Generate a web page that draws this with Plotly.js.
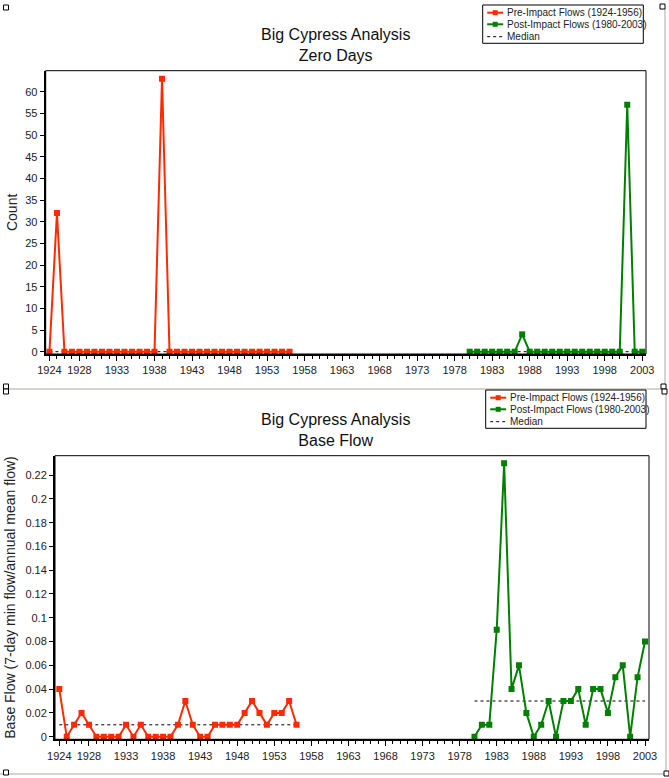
<!DOCTYPE html>
<html><head><meta charset="utf-8">
<script src="https://cdn.plot.ly/plotly-3.0.1.min.js"></script>
<style>html,body{margin:0;padding:0;background:#fff;}#chart{width:669px;height:778px;}</style>
</head><body><div id="chart"></div>
<script>
// ---- data ----
const yearsPre = [1924,1925,1926,1927,1928,1929,1930,1931,1932,1933,1934,1935,1936,1937,1938,1939,1940,1941,1942,1943,1944,1945,1946,1947,1948,1949,1950,1951,1952,1953,1954,1955,1956];
const yearsPost = [1980,1981,1982,1983,1984,1985,1986,1987,1988,1989,1990,1991,1992,1993,1994,1995,1996,1997,1998,1999,2000,2001,2002,2003];
const zeroDaysPre = [0,32,0,0,0,0,0,0,0,0,0,0,0,0,0,63,0,0,0,0,0,0,0,0,0,0,0,0,0,0,0,0,0];
const zeroDaysPost = [0,0,0,0,0,0,0,4,0,0,0,0,0,0,0,0,0,0,0,0,0,57,0,0];
const baseFlowPre = [0.04,0,0.01,0.02,0.01,0,0,0,0,0.01,0,0.01,0,0,0,0,0.01,0.03,0.01,0,0,0.01,0.01,0.01,0.01,0.02,0.03,0.02,0.01,0.02,0.02,0.03,0.01];
const baseFlowPost = [0,0.01,0.01,0.09,0.23,0.04,0.06,0.02,0,0.01,0.03,0,0.03,0.03,0.04,0.01,0.04,0.04,0.02,0.05,0.06,0,0.05,0.08];
const zeroDaysMedian = [0, 0];      // pre, post
const baseFlowMedian = [0.01, 0.03]; // pre, post
const yearTickVals = [1924,1928,1933,1938,1943,1948,1953,1958,1963,1968,1973,1978,1983,1988,1993,1998,2003];
const zeroTickVals = [0,5,10,15,20,25,30,35,40,45,50,55,60];
const baseTickVals = [0,0.02,0.04,0.06,0.08,0.1,0.12,0.14,0.16,0.18,0.2,0.22];
const baseTickText = ['0','0.02','0.04','0.06','0.08','0.1','0.12','0.14','0.16','0.18','0.2','0.22'];
const seriesNames = ['Pre-Impact Flows (1924-1956)','Post-Impact Flows (1980-2003)','Median'];
const chartTitles = ['Big Cypress Analysis<br>Zero Days','Big Cypress Analysis<br>Base Flow'];
const yTitles = ['Count','Base Flow (7-day min flow/annual mean flow)'];

// ---- styles ----
const RED = '#ff2a00', GREEN = '#008000';
const W = 669, H = 778;
const px = v => v / W, py = v => 1 - v / H;
const FONT = 'Liberation Sans, Arial, sans-serif';

function series(x, y, color, xa, ya) {
  return {x, y, xaxis: xa, yaxis: ya, type: 'scatter', mode: 'lines+markers',
    line: {color, width: 2}, marker: {symbol: 'square', size: 6, color},
    showlegend: false, hoverinfo: 'skip'};
}
function median(years, m, xa, ya) {
  return {x: [years[0], years[years.length - 1]], y: [m, m], xaxis: xa, yaxis: ya,
    type: 'scatter', mode: 'lines', line: {color: '#000', width: 1, dash: '3px,3px'},
    showlegend: false, hoverinfo: 'skip'};
}

const data = [
  median(yearsPre, zeroDaysMedian[0], 'x', 'y'),
  median(yearsPost, zeroDaysMedian[1], 'x', 'y'),
  series(yearsPre, zeroDaysPre, RED, 'x', 'y'),
  series(yearsPost, zeroDaysPost, GREEN, 'x', 'y'),
  median(yearsPre, baseFlowMedian[0], 'x2', 'y2'),
  median(yearsPost, baseFlowMedian[1], 'x2', 'y2'),
  series(yearsPre, baseFlowPre, RED, 'x2', 'y2'),
  series(yearsPost, baseFlowPost, GREEN, 'x2', 'y2')
];

function xAxis(domain, range) {
  return {domain, range, tickmode: 'array', tickvals: yearTickVals, ticktext: yearTickVals.map(String),
    ticks: 'outside', ticklen: 5, tickwidth: 1, tickcolor: '#000',
    minor: {dtick: 1, tick0: 1924, ticks: 'outside', ticklen: 3, tickcolor: '#000', showgrid: false},
    showline: true, linecolor: '#000', linewidth: 2, showgrid: false, zeroline: false,
    tickfont: {family: FONT, size: 11, color: '#222'}, fixedrange: true};
}
function yAxis(domain, range, tv, tt, title, standoff, anchor) {
  return {domain, range, anchor, tickmode: 'array', tickvals: tv, ticktext: tt,
    ticks: 'outside', ticklen: 4, tickwidth: 1, tickcolor: '#000',
    showline: true, linecolor: '#000', linewidth: 2, showgrid: false, zeroline: false,
    tickfont: {family: FONT, size: 11, color: '#222'},
    title: {text: title, font: {family: FONT, size: 14, color: '#222'}, standoff},
    automargin: false, fixedrange: true};
}

const shapes = [];
const annotations = [];

// plot frames (thin box)
shapes.push({type: 'rect', xref: 'x domain', yref: 'y domain', x0: 0, x1: 1, y0: 0, y1: 1, line: {color: '#000', width: 1}});
shapes.push({type: 'rect', xref: 'x2 domain', yref: 'y2 domain', x0: 0, x1: 1, y0: 0, y1: 1, line: {color: '#000', width: 1}});

// window frame lines
const FR = '#aca899';
shapes.push({type: 'line', xref: 'paper', yref: 'paper', x0: px(6), x1: px(666), y0: py(389), y1: py(389), line: {color: FR, width: 1}});
shapes.push({type: 'line', xref: 'paper', yref: 'paper', x0: px(665), x1: px(665), y0: py(9), y1: py(389), line: {color: FR, width: 1}});
shapes.push({type: 'line', xref: 'paper', yref: 'paper', x0: px(666), x1: px(666), y0: py(389), y1: py(774), line: {color: FR, width: 1}});
shapes.push({type: 'line', xref: 'paper', yref: 'paper', x0: px(0), x1: px(666), y0: py(774), y1: py(774), line: {color: FR, width: 1}});
// selection handles
[[3.5,5],[660,4],[3.5,384],[3.5,389],[661,384],[662,389],[3.5,770],[664,771]].forEach(([x, y]) => {
  shapes.push({type: 'rect', xref: 'paper', yref: 'paper', x0: px(x), x1: px(x + 5), y0: py(y), y1: py(y + 5),
    line: {color: '#000', width: 1}, fillcolor: '#fff'});
});

// titles
[[45, chartTitles[0]], [429.7, chartTitles[1]]].forEach(([y, t]) => {
  annotations.push({xref: 'paper', yref: 'paper', x: px(335), y: py(y), xanchor: 'center', yanchor: 'middle',
    text: t, showarrow: false, font: {family: FONT, size: 16, color: '#111'}});
});

// legends (one per chart)
function legend(x0, x1, y0, y1, rows) {
  shapes.push({type: 'rect', xref: 'paper', yref: 'paper', x0: px(x0), x1: px(x1), y0: py(y0), y1: py(y1),
    line: {color: '#000', width: 1}, fillcolor: 'rgba(0,0,0,0)'});
  const colors = [RED, GREEN, '#000'];
  rows.forEach((ry, i) => {
    const lx0 = x0 + 4.5, lx1 = x0 + 20.5;
    if (i < 2) {
      shapes.push({type: 'line', xref: 'paper', yref: 'paper', x0: px(lx0), x1: px(lx1), y0: py(ry), y1: py(ry), line: {color: colors[i], width: 2}});
      const c = (lx0 + lx1) / 2;
      shapes.push({type: 'rect', xref: 'paper', yref: 'paper', x0: px(c - 2.5), x1: px(c + 2.5), y0: py(ry - 2.5), y1: py(ry + 2.5), line: {color: colors[i], width: 0}, fillcolor: colors[i]});
    } else {
      shapes.push({type: 'line', xref: 'paper', yref: 'paper', x0: px(lx0), x1: px(lx1), y0: py(ry), y1: py(ry), line: {color: '#000', width: 1, dash: '3px,3px'}});
    }
    annotations.push({xref: 'paper', yref: 'paper', x: px(lx1 + 1.5), y: py(ry), xanchor: 'left', yanchor: 'middle',
      text: seriesNames[i], showarrow: false, font: {family: FONT, size: 10, color: '#222'}});
  });
}
legend(482.7, 643.3, 5, 43.3, [12.7, 24.3, 36.7]);
legend(485.7, 646, 390, 428.3, [397.7, 409.3, 421.7]);

const layout = {
  width: W, height: H, margin: {l: 0, r: 0, t: 0, b: 0},
  paper_bgcolor: '#fff', plot_bgcolor: '#fff', showlegend: false, hovermode: false,
  font: {family: FONT},
  xaxis: Object.assign(xAxis([px(45.7), px(646)], [1923.5, 2003.5]), {anchor: 'y'}),
  yaxis: yAxis([py(354), py(70.7)], [-0.53, 64.85], zeroTickVals, zeroTickVals.map(String), yTitles[0], 4, 'x'),
  xaxis2: Object.assign(xAxis([px(55), px(649)], [1923.42, 2003.54]), {anchor: 'y2'}),
  yaxis2: yAxis([py(739.3), py(455.7)], [-0.0022, 0.2363], baseTickVals, baseTickText, yTitles[1], 6, 'x2'),
  shapes, annotations
};

Plotly.newPlot('chart', data, layout, {displayModeBar: false, staticPlot: true});
</script>
</body></html>
